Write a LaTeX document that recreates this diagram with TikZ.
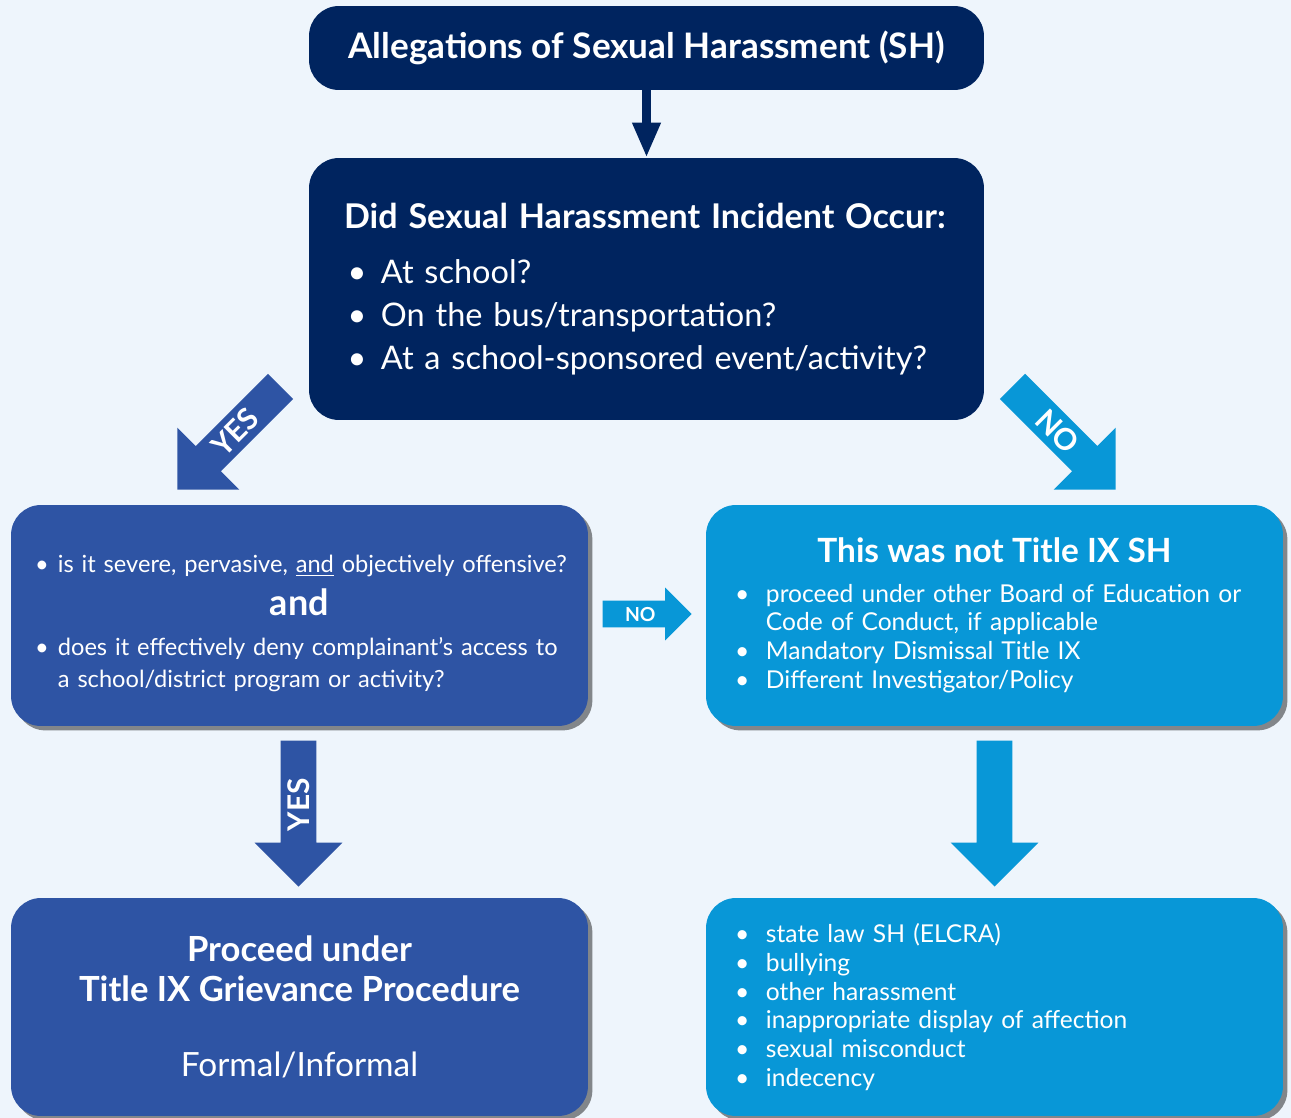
\documentclass[tikz,border=0pt]{standalone}
\usepackage{fontspec}
\setmainfont{Lato}
\usetikzlibrary{shapes.arrows,shadows,arrows.meta}

\definecolor{navy}{HTML}{00245F}
\definecolor{royal}{HTML}{2E54A4}
\definecolor{skyb}{HTML}{0897D7}
\definecolor{bgblue}{HTML}{EEF5FC}

% bullet line: #1 = width of the bullet column
\newcommand{\itm}[2][17.6pt]{\mbox{\makebox[#1][l]{\textbullet}#2}}

\begin{document}
\begin{tikzpicture}[x=0.02cm, y=-0.02cm,
  box/.style={rounded corners=17pt, text=white, inner ysep=0pt, align=left},
  shad/.style={drop shadow={shadow xshift=2.5pt, shadow yshift=-2.5pt, opacity=.45, fill=black}},
  arr/.style={single arrow, single arrow head extend=0.52cm, minimum width=1.74cm, minimum height=2.92cm,
    inner sep=0pt, text height=0.565cm, text depth=0.135cm, text=white, font=\bfseries\fontsize{17}{17}\selectfont}]

\useasboundingbox (0,0) rectangle (1291,1118);
\fill[bgblue] (0,0) rectangle (1291,1118);

% top row
\node[box, fill=navy, minimum width=13.5cm, minimum height=1.68cm, align=center,
  font=\bfseries\fontsize{20}{22}\selectfont] (allg) at (646.5,48) {Allegations of Sexual Harassment (SH)};
\node[box, fill=navy, minimum width=13.5cm, minimum height=5.24cm, inner xsep=0.7cm, text width=12.1cm,
  font=\fontsize{18.5}{24.4}\selectfont] (occur) at (646.5,289)
  {{\bfseries\fontsize{19.4}{24.4}\selectfont Did Sexual Harassment Incident Occur:}\\[7.3pt]
   \hspace*{2pt}\itm[19pt]{At school?}\\
   \hspace*{2pt}\itm[19pt]{On the bus/transportation?}\\
   \hspace*{2pt}\itm[19pt]{At a school-sponsored event/activity?}};
\draw[navy, line width=5pt, -{Triangle[width=15pt, length=20pt]}] (allg) -- (occur);

% middle row
\node[box, fill=royal, shad, minimum width=11.54cm, minimum height=4.42cm, inner xsep=0.48cm, text width=10.58cm,
  font=\fontsize{13.45}{18.1}\selectfont] (sev) at (299.5,615.5)
  {\rule{0pt}{19pt}\itm[13pt]{is it severe, pervasive, \underline{and} objectively offensive?}\\[6.3pt]
   \makebox[\linewidth]{\bfseries\fontsize{20.5}{22}\selectfont and}\\[4.7pt]
   \itm[13pt]{does it effectively deny complainant's access to}\\
   \hspace*{13pt}a school/district program or activity?};
\node[box, fill=skyb, shad, minimum width=11.54cm, minimum height=4.42cm, inner xsep=0.58cm, text width=10.38cm,
  font=\fontsize{14}{16.4}\selectfont] (notix) at (994.5,615.5)
  {\makebox[\linewidth]{\bfseries\fontsize{19}{20}\selectfont This was not Title IX SH}\\[6pt]
   \itm{proceed under other Board of Education or}\\
   \hspace*{17.6pt}Code of Conduct, if applicable\\
   \itm{Mandatory Dismissal Title IX}\\
   \itm{Different Investigator/Policy}};

% bottom row
\node[box, fill=royal, shad, minimum width=11.54cm, minimum height=4.36cm, align=center,
  font=\bfseries\fontsize{19.7}{22.7}\selectfont] (proc) at (299.5,1007)
  {Proceed under\\ Title IX Grievance Procedure\\[20pt] \mdseries\fontsize{19}{22.7}\selectfont Formal/Informal};
\node[box, fill=skyb, shad, minimum width=11.54cm, minimum height=4.36cm, inner xsep=0.58cm, text width=10.38cm,
  font=\fontsize{14}{16.4}\selectfont] (other) at (994.5,1007)
  {\itm{state law SH (ELCRA)}\\
   \itm{bullying}\\
   \itm{other harassment}\\
   \itm{inappropriate display of affection}\\
   \itm{sexual misconduct}\\
   \itm{indecency}};

% block arrows
\node[arr, fill=royal, rotate=45, shape border rotate=180, anchor=tip] (yes1) at (177,490) {YES};
\node[arr, fill=skyb, rotate=-45, anchor=tip] (no1) at (1116,490) {NO};
\node[arr, fill=skyb, anchor=tip, minimum width=1.04cm, minimum height=1.78cm, single arrow head extend=0.26cm,
  text height=0.4cm, text depth=0.12cm, font=\bfseries\fontsize{11}{11}\selectfont] (no2) at (692,614) {NO};
\node[arr, fill=royal, rotate=90, shape border rotate=180, anchor=tip] (yes2) at (298.5,887) {YES};
\node[arr, fill=skyb, rotate=-90, anchor=tip] (down) at (994.5,887) {};
\end{tikzpicture}
\end{document}
